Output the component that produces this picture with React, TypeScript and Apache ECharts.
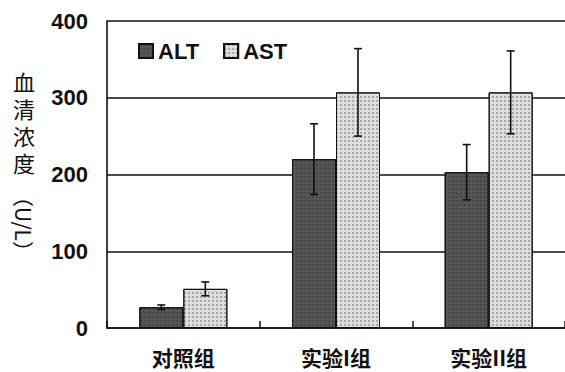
import React, { useEffect, useRef } from "react";
import * as echarts from "echarts";

const categories = ["对照组", "实验I组", "实验II组"];
const altMean = [27, 220, 203];
const altSd = [3, 46, 36];
const astMean = [51, 307, 307];
const astSd = [9, 57, 54];
const yTicks = [0, 100, 200, 300, 400];
const yNameChars = ["血", "清", "浓", "度"];
const yNameUnit = "（U/L）";

const BAR_W = 44;

function errorSeries(name: string, mean: number[], sd: number[], offset: number) {
  return {
    type: "custom",
    name: name + "_err",
    z: 5,
    silent: true,
    encode: { x: 0, y: 1 },
    data: mean.map((m, i) => [i, m, sd[i]]),
    renderItem: (params: any, api: any) => {
      const x = api.value(0);
      const m = api.value(1);
      const s = api.value(2);
      const top = api.coord([x, m + s]);
      const bot = api.coord([x, m - s]);
      const cx = top[0] + offset;
      const st = { stroke: "#111", lineWidth: 1.6 };
      return {
        type: "group",
        children: [
          { type: "line", shape: { x1: cx, y1: top[1], x2: cx, y2: bot[1] }, style: st },
          { type: "line", shape: { x1: cx - 4, y1: top[1], x2: cx + 4, y2: top[1] }, style: st },
          { type: "line", shape: { x1: cx - 4, y1: bot[1], x2: cx + 4, y2: bot[1] }, style: st },
        ],
      };
    },
  };
}

export default function App() {
  const ref = useRef<HTMLDivElement>(null);
  useEffect(() => {
    if (!ref.current) return;
    const chart = echarts.init(ref.current, null, { renderer: "svg" });
    const graphics: any[] = yNameChars.map((c, i) => ({
      type: "text",
      x: 24,
      y: 81 + i * 27,
      style: {
        text: c,
        font: "normal 22px 'Noto Sans CJK SC'",
        fill: "#111",
        align: "center",
        verticalAlign: "middle",
      },
    }));
    graphics.push({
      type: "text",
      x: 24,
      y: 224,
      rotation: -Math.PI / 2,
      style: {
        text: yNameUnit,
        font: "normal 21px 'Noto Sans CJK SC'",
        fill: "#111",
        align: "center",
        verticalAlign: "middle",
      },
    });
    chart.setOption({
      animation: false,
      backgroundColor: "#fff",
      grid: { left: 107, top: 21, right: -7, bottom: 44 },
      legend: {
        left: 133,
        top: 35,
        itemWidth: 14,
        itemHeight: 14,
        itemGap: 24,
        icon: "rect",
        data: ["ALT", "AST"],
        textStyle: { fontFamily: "Liberation Sans", fontWeight: "bold", fontSize: 22, color: "#111" },
      },
      xAxis: {
        type: "category",
        data: categories,
        axisLine: { lineStyle: { color: "#111", width: 1.6 } },
        axisTick: { show: true, inside: true, length: 7, lineStyle: { color: "#111", width: 1.5 } },
        axisLabel: {
          margin: 18,
          fontFamily: "Noto Sans CJK SC",
          fontWeight: "bold",
          fontSize: 21,
          color: "#111",
        },
      },
      yAxis: {
        type: "value",
        min: yTicks[0],
        max: yTicks[yTicks.length - 1],
        interval: 100,
        axisLine: { show: true, lineStyle: { color: "#111", width: 1.6 } },
        axisTick: { show: false },
        splitLine: { lineStyle: { color: "#111", width: 1.6 } },
        axisLabel: {
          margin: 19,
          fontFamily: "Liberation Sans",
          fontWeight: "bold",
          fontSize: 22,
          color: "#111",
        },
      },
      graphic: graphics,
      series: [
        {
          type: "bar",
          name: "ALT",
          data: altMean,
          barWidth: BAR_W,
          barGap: "0%",
          itemStyle: {
            color: "#555555",
            borderColor: "#111",
            borderWidth: 1,
            decal: {
              symbol: "circle",
              symbolSize: 0.7,
              dashArrayX: 2,
              dashArrayY: 2,
              color: "rgba(20,20,20,0.6)",
            },
          },
        },
        {
          type: "bar",
          name: "AST",
          data: astMean,
          barWidth: BAR_W,
          barGap: "0%",
          itemStyle: {
            color: "#dedede",
            borderColor: "#111",
            borderWidth: 1,
            decal: {
              symbol: "circle",
              symbolSize: 0.75,
              dashArrayX: 2,
              dashArrayY: 2,
              color: "rgba(80,80,80,0.75)",
            },
          },
        },
        errorSeries("ALT", altMean, altSd, -BAR_W / 2),
        errorSeries("AST", astMean, astSd, BAR_W / 2),
      ],
    });
    return () => chart.dispose();
  }, []);
  return (
    <div
      ref={ref}
      style={{ position: "absolute", left: 0, top: 0, width: 565, height: 372, background: "#fff" }}
    />
  );
}
